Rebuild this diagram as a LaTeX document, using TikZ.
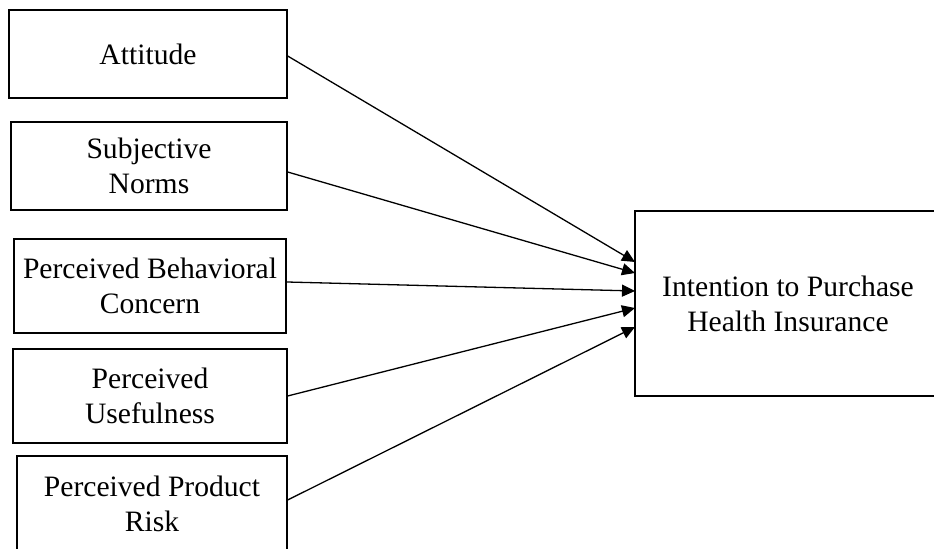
\documentclass[tikz,border=0pt]{standalone}
\usepackage{fontspec}
\setmainfont{Liberation Serif}
\usetikzlibrary{calc,arrows.meta}

\begin{document}
\begin{tikzpicture}[x=0.5pt,y=-0.5pt,
    factor/.style={draw, line width=0.65pt, align=center, inner sep=1pt,
      font=\fontsize{14.8}{17.5}\selectfont},
    link/.style={line width=0.65pt, -{Triangle[length=6.5pt,width=6pt]}}]
  \useasboundingbox (0,0) rectangle (934,549);
  \clip (0,0) rectangle (934,549);

  % Predictors
  \node[factor, minimum width=139pt, minimum height=44pt] (att) at (148,54) {Attitude};
  \node[factor, minimum width=138pt, minimum height=44pt] (sub) at (149,166) {Subjective\\Norms};
  \node[factor, minimum width=136pt, minimum height=47pt] (pbc) at (150,286) {Perceived Behavioral\\Concern};
  \node[factor, minimum width=137pt, minimum height=47pt] (pu) at (150,396) {Perceived\\Usefulness};
  \node[factor, minimum width=135pt, minimum height=48pt] (ppr) at (152,504) {Perceived Product\\Risk};

  % Outcome (right side runs off the page)
  \node[factor, minimum width=153pt, minimum height=92.5pt] (int) at (788,303.5) {Intention to Purchase\\Health Insurance};

  % Arrow ends on the left side of the outcome box
  \coordinate (in1) at (635,262);
  \coordinate (in2) at (635,273);
  \coordinate (in3) at (635,291);
  \coordinate (in4) at (635,308);
  \coordinate (in5) at (635,327);

  \draw[link] ([yshift=-1pt]att.east) -- (in1);
  \draw[link] ([yshift=-3pt]sub.east) -- (in2);
  \draw[link] ([yshift=2pt]pbc.east) -- (in3);
  \draw[link] (pu.east) -- (in4);
  \draw[link] ([yshift=2pt]ppr.east) -- (in5);
\end{tikzpicture}
\end{document}
